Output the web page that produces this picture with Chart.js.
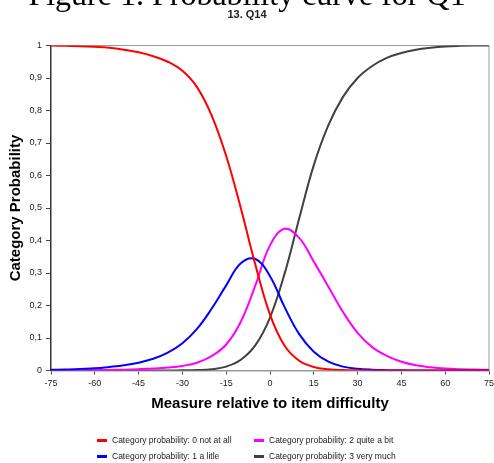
<!DOCTYPE html>
<html>
<head>
<meta charset="utf-8">
<script src="https://cdn.jsdelivr.net/npm/chart.js@4.4.1/dist/chart.umd.min.js"></script>
<style>
  html, body { margin: 0; padding: 0; background: #fff; overflow: hidden; }
  #wrap { position: relative; width: 494px; height: 463px; }
  #fig {
    position: absolute; left: 0; top: -22px; width: 494px; text-align: center;
    font: 32px/1 "Liberation Serif", "Times New Roman", serif; color: #000; white-space: nowrap;
  }
  .lg { position: absolute; height: 12px; font: 8.5px/12px "Liberation Sans", Arial, sans-serif; color: #222; white-space: nowrap; }
  .lg i { position: absolute; left: 0; top: 5px; width: 10px; height: 3px; }
  .lg span { position: absolute; left: 15px; top: 0; }
</style>
</head>
<body>
<div id="wrap">
  <canvas id="c" width="494" height="463"></canvas>
  <div id="fig">Figure 1. Probability curve for Q1</div>
</div>
<script>
// measure values (step 5) and category probabilities
const xValues = [-75, -70, -65, -60, -55, -50, -45, -40, -35, -30, -25, -20, -15, -10, -5, 0,
                 5, 10, 15, 20, 25, 30, 35, 40, 45, 50, 55, 60, 65, 70, 75];
const pNotAtAll = [1, 0.999, 0.998, 0.996, 0.993, 0.987, 0.979, 0.967, 0.95, 0.922, 0.872, 0.785, 0.66, 0.5, 0.325, 0.172,
                   0.076, 0.03, 0.011, 0.004, 0.0015, 0.0006, 0.0002, 0.0001, 0, 0, 0, 0, 0, 0, 0];
const pALitle = [0.002, 0.003, 0.005, 0.007, 0.011, 0.016, 0.024, 0.036, 0.055, 0.084, 0.128, 0.19, 0.262, 0.33, 0.343, 0.29,
                 0.195, 0.112, 0.058, 0.027, 0.012, 0.0055, 0.0025, 0.0011, 0.0005, 0.0002, 0.0001, 0, 0, 0, 0];
const pQuiteABit = [0, 0, 0.0005, 0.001, 0.0015, 0.0025, 0.004, 0.006, 0.009, 0.014, 0.024, 0.044, 0.08, 0.15, 0.262, 0.385,
                    0.436, 0.408, 0.335, 0.258, 0.18, 0.116, 0.072, 0.045, 0.027, 0.016, 0.01, 0.006, 0.004, 0.003, 0.002];
const pVeryMuch = [0, 0, 0, 0, 0, 0, 0, 0, 0, 0.0005, 0.0015, 0.004, 0.012, 0.033, 0.078, 0.163,
                   0.298, 0.468, 0.632, 0.755, 0.842, 0.9, 0.937, 0.962, 0.977, 0.987, 0.993, 0.997, 0.999, 1, 1];

const seriesNames = ['Category probability: 0 not at all', 'Category probability: 1 a litle',
                     'Category probability: 2 quite a bit', 'Category probability: 3 very much'];
const seriesColors = ['#ff0000', '#0000ff', '#ff00ff', '#404040'];
const seriesValues = [pNotAtAll, pALitle, pQuiteABit, pVeryMuch];

const yTickLabels = ['0', '0,1', '0,2', '0,3', '0,4', '0,5', '0,6', '0,7', '0,8', '0,9', '1'];

const FONT = '"Liberation Sans", Arial, sans-serif';

// gray frame on top / right like the original plot box
const framePlugin = {
  id: 'frame',
  beforeDatasetsDraw(chart) {
    const { ctx, chartArea: a } = chart;
    ctx.save();
    ctx.strokeStyle = '#999';
    ctx.lineWidth = 1;
    ctx.beginPath();
    ctx.moveTo(a.left, a.top);
    ctx.lineTo(a.right, a.top);
    ctx.lineTo(a.right, a.bottom);
    ctx.stroke();
    ctx.restore();
  }
};

const datasets = seriesValues.map((vals, i) => ({
  label: seriesNames[i],
  data: xValues.map((x, j) => ({ x, y: vals[j] })),
  borderColor: seriesColors[i],
  backgroundColor: seriesColors[i],
  borderWidth: 2,
  pointRadius: 0,
  fill: false,
  tension: 0.4
}));

new Chart(document.getElementById('c'), {
  type: 'line',
  data: { datasets },
  plugins: [framePlugin],
  options: {
    responsive: false,
    animation: false,
    layout: { padding: { left: 0, right: 0, top: 0, bottom: 47.5 } },
    plugins: {
      legend: { display: false },
      tooltip: { enabled: false },
      title: {
        display: true,
        text: '13. Q14',
        color: '#222',
        font: { family: FONT, size: 11, weight: 'bold' },
        padding: { top: 8, bottom: 24.3 }
      }
    },
    scales: {
      x: {
        type: 'linear',
        min: -75,
        max: 75,
        afterFit: s => { s.height = 45; s.paddingRight = 5; },
        ticks: { stepSize: 15, autoSkip: false, maxRotation: 0, color: '#222', padding: 4,
                 font: { family: FONT, size: 9 } },
        grid: { drawOnChartArea: false, tickLength: 4, color: '#444' },
        border: { color: '#999', width: 1.5 },
        title: { display: true, text: 'Measure relative to item difficulty', color: '#000',
                 font: { family: FONT, size: 15, weight: 'bold' }, padding: { top: 0, bottom: 2.5 } }
      },
      y: {
        min: 0,
        max: 1,
        afterFit: s => { s.width = 51; },
        ticks: { stepSize: 0.1, color: '#222', padding: 4, font: { family: FONT, size: 9 },
                 callback: (v, i) => yTickLabels[i] },
        grid: { drawOnChartArea: false, tickLength: 5, color: '#444' },
        border: { color: '#333', width: 1.5 },
        title: { display: true, text: 'Category Probability', color: '#000',
                 font: { family: FONT, size: 15, weight: 'bold' }, padding: { top: 7, bottom: 0 } }
      }
    }
  }
});

// legend in two columns: 0 / 1 on the left, 2 / 3 on the right
const legendCols = [97, 254];
const legendRows = [434, 450];
const wrap = document.getElementById('wrap');
seriesNames.forEach((name, i) => {
  const item = document.createElement('div');
  item.className = 'lg';
  item.style.left = legendCols[Math.floor(i / 2)] + 'px';
  item.style.top = legendRows[i % 2] + 'px';
  item.innerHTML = '<i style="background:' + seriesColors[i] + '"></i><span></span>';
  item.querySelector('span').textContent = name;
  wrap.appendChild(item);
});
</script>
</body>
</html>
